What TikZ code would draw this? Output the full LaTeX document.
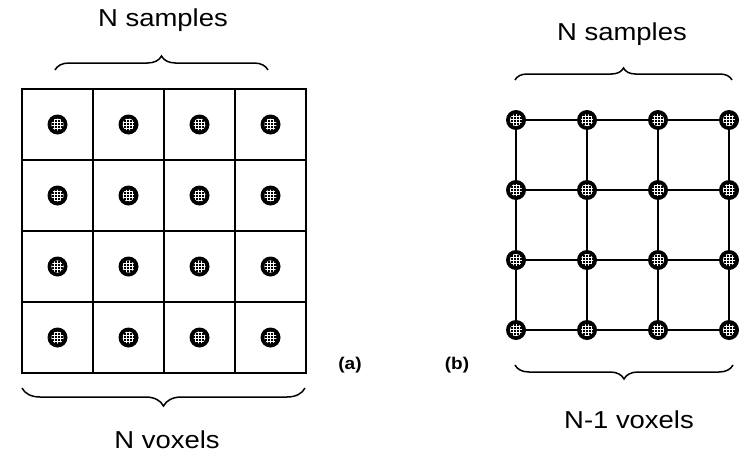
\documentclass[tikz,border=0pt]{standalone}
\usepackage{fontspec}
\setmainfont{Liberation Sans}
\newfontfamily\labelfont[FakeStretch=1.12]{Liberation Sans}
\usetikzlibrary{decorations.pathreplacing,patterns}

\begin{document}
\begin{tikzpicture}[x=1pt, y=-1pt,
  voxel/.style={draw, line width=1.3pt, minimum size=71pt, inner sep=0pt},
  sample/.style={circle, fill=black, inner sep=0pt, minimum size=20pt,
    path picture={\fill[pattern=grid, pattern color=white]
      (path picture bounding box.center) circle (6pt);}},
  link/.style={line width=1.5pt},
  bracestyle/.style={line width=1.5pt, decorate, decoration={brace, amplitude=#1}},
  caption/.style={font=\labelfont\fontsize{24.5}{28}\selectfont, anchor=base},
  tag/.style={font=\labelfont\bfseries\fontsize{17}{20}\selectfont}]
\useasboundingbox (0,0) rectangle (749,455);

% (a) samples in voxel centres
\foreach \r in {1,...,4}
  \foreach \c in {1,...,4} {
    \node[voxel] (v-\r-\c) at ({22+71*(\c-0.5)},{89+71*(\r-0.5)}) {};
    \node[sample] (s-\r-\c) at (v-\r-\c.center) {};
  }

% braces (a)
\coordinate (aT1) at (55,70);
\coordinate (aT2) at (268,70);
\draw[bracestyle=14pt] (aT1) -- (aT2);
\node[caption] (aTop) at (163,27) {N samples};
\coordinate (aB1) at (305,388);
\coordinate (aB2) at (22,388);
\draw[bracestyle=18pt] (aB1) -- (aB2);
\node[caption] (aBot) at (167,448) {N voxels};

% (b) samples on voxel corners
\foreach \r in {1,...,4}
  \foreach \c in {1,...,4}
    \node[sample] (p-\r-\c) at ({516+71*(\c-1)},{120+70*(\r-1)}) {};
\foreach \r in {1,...,4}
  \foreach \c/\nc in {1/2,2/3,3/4}
    \draw[link] (p-\r-\c) -- (p-\r-\nc);
\foreach \r/\nr in {1/2,2/3,3/4}
  \foreach \c in {1,...,4}
    \draw[link] (p-\r-\c) -- (p-\nr-\c);

% braces (b)
\coordinate (bT1) at (515,80);
\coordinate (bT2) at (732,80);
\draw[bracestyle=12pt] (bT1) -- (bT2);
\node[caption] (bTop) at (622,40) {N samples};
\coordinate (bB1) at (733,365);
\coordinate (bB2) at (515,365);
\draw[bracestyle=14pt] (bB1) -- (bB2);
\node[caption] (bBot) at (629,428) {N-1 voxels};

% tags
\node[tag] (ta) at (350,365) {(a)};
\node[tag] (tb) at (457,365) {(b)};
\end{tikzpicture}
\end{document}
